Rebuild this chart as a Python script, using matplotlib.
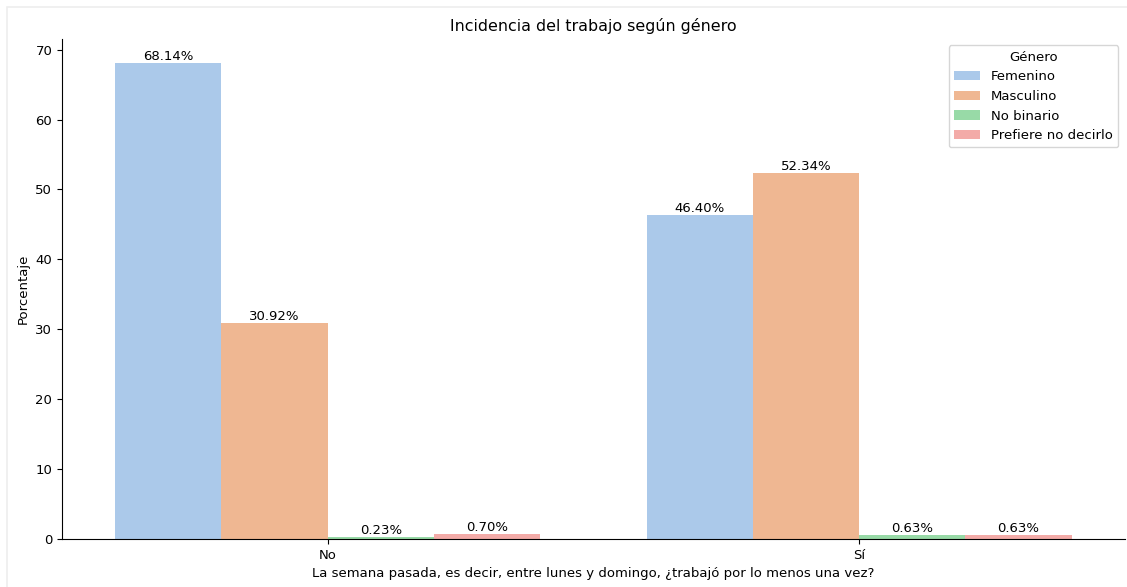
import matplotlib
matplotlib.use('Agg')
import matplotlib.pyplot as plt
from matplotlib.patches import Rectangle
import pandas as pd
import seaborn as sns

# respuestas a la pregunta y porcentajes por genero
respuestas = ["No", "Sí"]
generos = ["Femenino", "Masculino", "No binario", "Prefiere no decirlo"]
pct_no = [68.14, 30.92, 0.23, 0.70]
pct_si = [46.40, 52.34, 0.63, 0.63]

df = pd.DataFrame({
    "respuesta": [respuestas[0]] * len(generos) + [respuestas[1]] * len(generos),
    "genero": generos + generos,
    "porcentaje": pct_no + pct_si,
})

plt.rcParams['font.size'] = 9.5
plt.rcParams['axes.titlesize'] = 11.4

fig = plt.figure(figsize=(11.27, 5.87), dpi=100)
ax = fig.add_axes([0.055, 0.0818, 0.943, 0.852])

sns.barplot(data=df, x="respuesta", y="porcentaje", hue="genero",
            order=respuestas, hue_order=generos, palette="pastel", ax=ax)

for cont in ax.containers:
    ax.bar_label(cont, fmt="%.2f%%", fontsize=9.5)

ax.set_title("Incidencia del trabajo según género")
ax.set_xlabel("La semana pasada, es decir, entre lunes y domingo, ¿trabajó por lo menos una vez?")
ax.set_ylabel("Porcentaje")
ax.legend(title="Género", loc="upper right")
sns.despine(ax=ax)

# borde suave alrededor de la figura
fig.patches.append(Rectangle((0.006, -0.01), 1.0, 0.998, transform=fig.transFigure,
                             fill=False, edgecolor="#eeeeee", linewidth=1.2))

fig.savefig("out.png", dpi=100)
